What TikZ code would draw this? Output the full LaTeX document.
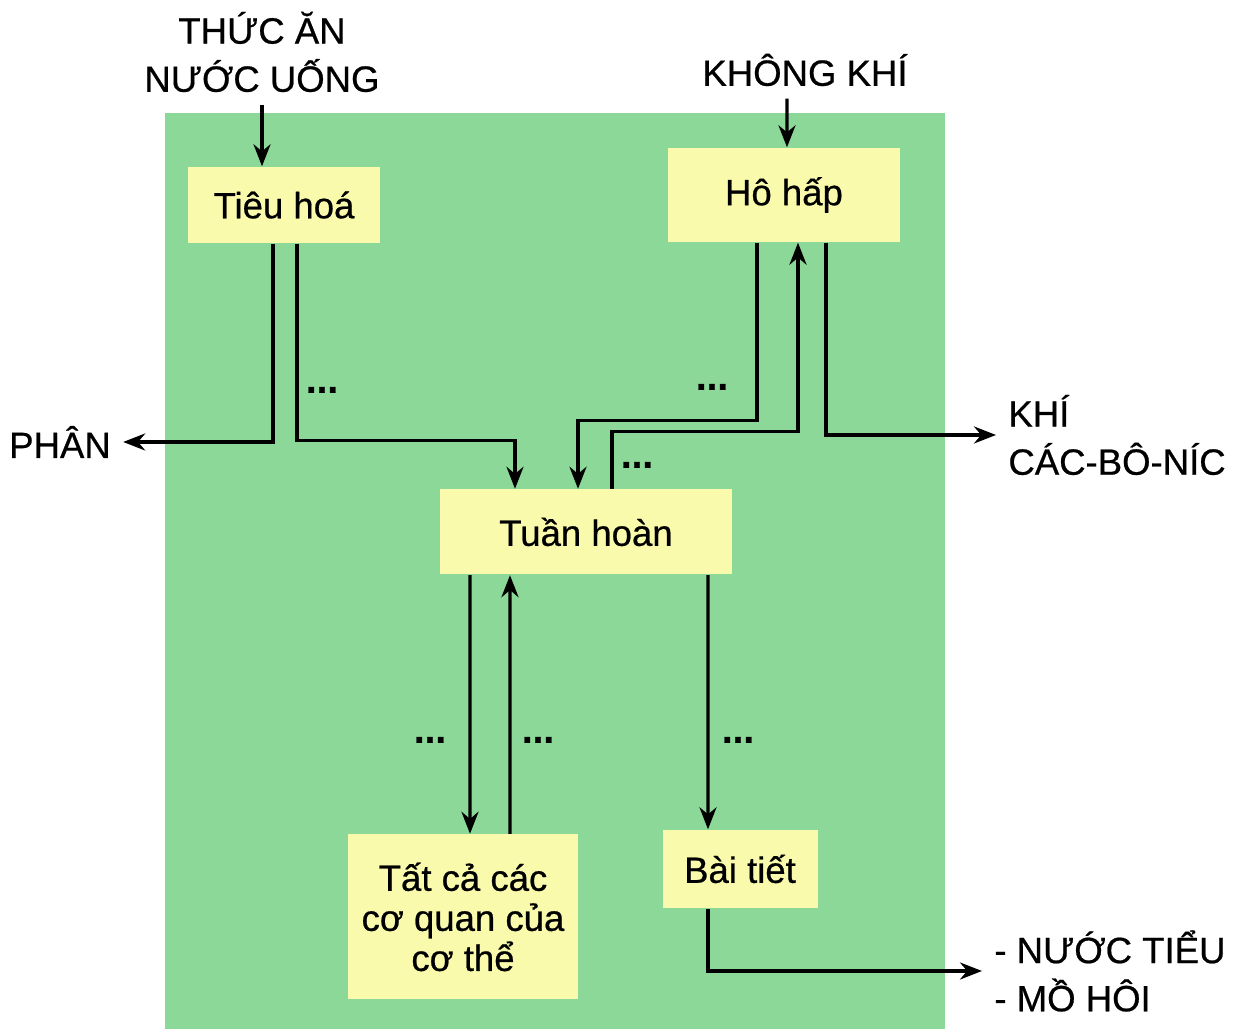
\documentclass[tikz,border=0pt]{standalone}
\usepackage{fontspec}
\setmainfont{Liberation Sans}[FakeBold=0.6]
\usetikzlibrary{positioning,arrows.meta}
\definecolor{bggreen}{RGB}{140,216,152}
\definecolor{boxyellow}{RGB}{250,250,172}

\begin{document}
\begin{tikzpicture}[
    font=\fontsize{10.4}{13.7}\selectfont,
    organ/.style={fill=boxyellow, minimum width=#1, align=center, inner sep=2pt},
    arr/.style={-{Stealth[length=0.22cm,width=0.17cm]}, line width=0.95pt},
    dots/.style={font=\fontsize{11}{11}\selectfont\bfseries, inner sep=0pt}
  ]
      \useasboundingbox (0,0) rectangle (12.35,-10.29);
      \fill[bggreen] (1.65,-1.13) rectangle (9.45,-10.29);

      \node[organ=1.92cm, minimum height=0.76cm] (tieuhoa) at (2.84,-2.05) {Tiêu hoá};
      \node[organ=2.32cm, minimum height=0.94cm] (hohap) at (7.84,-1.95) {Hô hấp};
      \node[organ=2.92cm, minimum height=0.85cm] (tuanhoan) at (5.86,-5.32) {Tuần hoàn};
      \node[organ=2.30cm, minimum height=1.65cm, font=\fontsize{10.4}{11.4}\selectfont] (tatca) at (4.63,-9.17) {Tất cả các\\cơ quan của\\cơ thể};
      \node[organ=1.55cm, minimum height=0.78cm] (baitiet) at (7.40,-8.69) {Bài tiết};

      \node[align=center] (thucan) at (2.62,-0.52) {THỨC ĂN\\NƯỚC UỐNG};
      \node (khongkhi) at (8.05,-0.70) {KHÔNG KHÍ};
      \node (phan) at (0.60,-4.42) {PHÂN};
      \node[align=left, anchor=west] (khi) at (9.96,-4.35) {KHÍ\\CÁC-BÔ-NÍC};
      \node[align=left, anchor=west] (thai) at (9.82,-9.71) {- NƯỚC TIỂU\\- MỒ HÔI};

      \draw[arr] (thucan.south) -- (thucan.south |- tieuhoa.north);
      \draw[arr] ([xshift=-0.18cm]khongkhi.south) -- ([xshift=0.03cm]hohap.north);
      \draw[arr] ([xshift=-0.11cm]tieuhoa.south) |- (phan.east);
      \draw[arr] ([xshift=0.13cm]tieuhoa.south) -- ++(0,-1.97) -| ([xshift=-0.71cm]tuanhoan.north);
      \draw[arr] ([xshift=-0.27cm]hohap.south) -- ++(0,-1.78) -| ([xshift=-0.08cm]tuanhoan.north);
      \draw[arr] ([xshift=0.26cm]tuanhoan.north) -- ++(0,0.57) -| ([xshift=0.14cm]hohap.south);
      \draw[arr] ([xshift=0.42cm]hohap.south) |- (khi.west);
      \draw[arr] ([xshift=-1.16cm]tuanhoan.south) -- ([xshift=0.07cm]tatca.north);
      \draw[arr] ([xshift=0.47cm]tatca.north) -- ([xshift=-0.76cm]tuanhoan.south);
      \draw[arr] ([xshift=1.22cm]tuanhoan.south) -- ([xshift=-0.32cm]baitiet.north);
      \draw[arr] ([xshift=-0.32cm]baitiet.south) |- (thai.west);

      \node[dots] (d1) at (3.22,-3.90) {...};
      \node[dots] (d2) at (7.12,-3.87) {...};
      \node[dots] (d3) at (6.37,-4.65) {...};
      \node[dots] (d4) at (4.30,-7.40) {...};
      \node[dots] (d5) at (5.38,-7.40) {...};
      \node[dots] (d6) at (7.38,-7.40) {...};
    \end{tikzpicture}
\end{document}
